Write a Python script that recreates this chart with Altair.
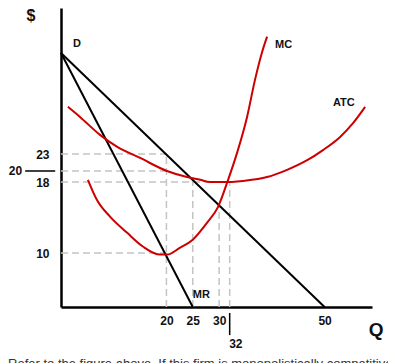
import altair as alt
import pandas as pd

# ---- data ----
demand_q = [0, 50]
demand_p = [41, 0]
mr_q = [0, 25]
mr_p = [41, 0]

mc_q = [5.1, 6.8, 9.3, 12.5, 15.6, 18.8, 20.1, 22.6, 25.0, 27.7, 29.8, 31.7, 33.4, 35.3, 36.8, 38.1, 39.1]
mc_p = [18.4, 16.0, 14.1, 12.3, 10.7, 9.7, 9.7, 10.6, 11.5, 13.4, 15.2, 18.4, 23.2, 29.6, 36.2, 41.0, 43.9]

atc_q = [1.3, 3.6, 7.4, 10.6, 15.0, 20.1, 23.9, 26.4, 28.3, 32.1, 34.5, 39.1, 42.9, 46.7, 49.7, 52.9, 55.4, 57.7]
atc_p = [31.4, 29.6, 26.4, 24.3, 22.3, 20.0, 18.9, 18.4, 18.0, 18.0, 18.2, 18.9, 20.2, 21.9, 23.7, 26.0, 28.5, 31.4]

# dashed guide segments (q1, p1, q2, p2)
guide_q1 = [0, 0, 0, 0, 20, 25, 30, 32]
guide_p1 = [23, 20, 18, 10, 0, 0, 0, 0]
guide_q2 = [20, 20, 32, 20, 20, 25, 30, 32]
guide_p2 = [23, 20, 18, 10, 23, 18.3, 15.3, 18]

x_ticks = [20, 25, 30, 50]
y_ticks = [10, 18, 23]

curve_labels = ["D", "MC", "ATC", "MR"]
curve_label_q = [2.3, 40.6, 51.6, 25.0]
curve_label_p = [42.6, 42.5, 32.1, 2.2]

question = "Refer to the figure above. If this firm is monopolistically competitive and"

# ---- scales and axes ----
FONT = "Arial, Liberation Sans, sans-serif"
xs = alt.Scale(domain=[0, 59], nice=False, zero=False)
ys = alt.Scale(domain=[0, 10, 18, 20, 23, 49], range=[299, 245, 174, 163, 146, 0],
               nice=False, zero=False)
x_axis = alt.Axis(values=x_ticks, title=None, ticks=False, grid=False,
                  domainColor="black", domainWidth=2.5, labelFont=FONT, labelFontWeight="bold",
                  labelFontSize=12, labelColor="#111", labelPadding=8)
y_axis = alt.Axis(values=y_ticks, title=None, ticks=False, grid=False,
                  domainColor="black", domainWidth=2.5, labelFont=FONT, labelFontWeight="bold",
                  labelFontSize=12, labelColor="#111", labelPadding=12)


def X(f):
    return alt.X(f, type="quantitative", scale=xs, axis=x_axis)


def Y(f):
    return alt.Y(f, type="quantitative", scale=ys, axis=y_axis)


guides = alt.Chart(pd.DataFrame({"q": guide_q1, "p": guide_p1, "q2": guide_q2, "p2": guide_p2})).mark_rule(
    color="#c4c4c4", strokeWidth=1.5, strokeDash=[7, 4]
).encode(x=X("q"), y=Y("p"), x2="q2", y2="p2")

d_line = alt.Chart(pd.DataFrame({"q": demand_q, "p": demand_p})).mark_line(color="black", strokeWidth=2).encode(
    x=X("q"), y=Y("p"))
mr_line = alt.Chart(pd.DataFrame({"q": mr_q, "p": mr_p})).mark_line(color="black", strokeWidth=2).encode(
    x=X("q"), y=Y("p"))
mc_line = alt.Chart(pd.DataFrame({"q": mc_q, "p": mc_p})).mark_line(
    color="#cc0000", strokeWidth=2, interpolate="monotone").encode(x=X("q"), y=Y("p"))
atc_line = alt.Chart(pd.DataFrame({"q": atc_q, "p": atc_p})).mark_line(
    color="#cc0000", strokeWidth=2, interpolate="monotone").encode(x=X("q"), y=Y("p"))

labels = alt.Chart(pd.DataFrame({"t": curve_labels, "q": curve_label_q, "p": curve_label_p})).mark_text(
    font=FONT, fontWeight="bold", fontSize=11, align="left", baseline="middle", color="#111"
).encode(x=X("q"), y=Y("p"), text="t:N")

# special tick labels: 20 on the price axis, 32 on the quantity axis
p20_text = alt.Chart(pd.DataFrame({"t": ["20"], "q": [-9.9], "p": [20]})).mark_text(
    font=FONT, fontWeight="bold", fontSize=12, align="left", baseline="middle", color="#111"
).encode(x=X("q"), y=Y("p"), text="t:N")
p20_rule = alt.Chart(pd.DataFrame({"q": [-6.8], "q2": [-1.1], "p": [20]})).mark_rule(
    color="black", strokeWidth=1.5).encode(x=X("q"), x2="q2", y=Y("p"))
q32_text = alt.Chart(pd.DataFrame({"t": ["32"], "q": [31.9], "p": [-6.85]})).mark_text(
    font=FONT, fontWeight="bold", fontSize=12, align="left", baseline="middle", color="#111"
).encode(x=X("q"), y=Y("p"), text="t:N")
q32_rule = alt.Chart(pd.DataFrame({"q": [32], "p": [-1.1], "p2": [-5.2]})).mark_rule(
    color="black", strokeWidth=1.5).encode(x=X("q"), y=Y("p"), y2="p2")

# axis titles
dollar = alt.Chart(pd.DataFrame({"t": ["$"], "q": [-5.7], "p": [47.6]})).mark_text(
    font=FONT, fontWeight="bold", fontSize=16, align="center", baseline="middle", color="#111"
).encode(x=X("q"), y=Y("p"), text="t:N")
qtitle = alt.Chart(pd.DataFrame({"t": ["Q"], "q": [59.8], "p": [-4.3]})).mark_text(
    font=FONT, fontWeight="bold", fontSize=19, align="center", baseline="middle", color="#111"
).encode(x=X("q"), y=Y("p"), text="t:N")

qtext = alt.Chart(pd.DataFrame({"t": [question], "q": [-10.05], "p": [-11.3]})).mark_text(
    font=FONT, fontSize=13, align="left", baseline="alphabetic", color="#333"
).encode(x=X("q"), y=Y("p"), text="t:N")

chart = alt.layer(
    guides, d_line, mr_line, atc_line, mc_line, labels,
    p20_text, p20_rule, q32_text, q32_rule, dollar, qtitle, qtext
).properties(
    width=311, height=299,
    autosize=alt.AutoSizeParams(type="none"),
    padding={"left": 53, "top": 0, "right": 16, "bottom": 63},
).configure_view(stroke=None)

chart.save("out.html", embed_options={"renderer": "svg", "actions": False})
